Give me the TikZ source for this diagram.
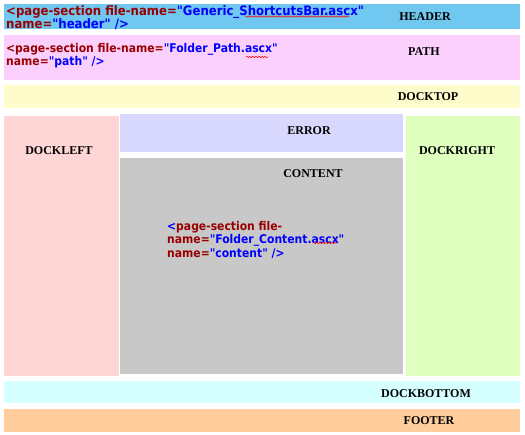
\documentclass[tikz,border=0pt]{standalone}
\usepackage{fontspec}
\setmainfont{Liberation Serif}
\newfontfamily\codefont{DejaVu Sans Condensed}
\usetikzlibrary{decorations.pathmorphing}

\definecolor{headerblue}{RGB}{112,200,240}
\definecolor{pathpink}{RGB}{252,208,252}
\definecolor{docktopyellow}{RGB}{255,252,204}
\definecolor{dockleftpink}{RGB}{255,214,214}
\definecolor{errorlav}{RGB}{216,216,255}
\definecolor{contentgray}{RGB}{200,200,200}
\definecolor{dockrightgreen}{RGB}{222,255,190}
\definecolor{dockbottomcyan}{RGB}{214,255,255}
\definecolor{footerorange}{RGB}{255,204,156}
\definecolor{tagred}{RGB}{153,0,0}
\definecolor{valblue}{RGB}{0,0,255}

\newcommand{\tg}[1]{\textcolor{tagred}{#1}}
\newcommand{\vl}[1]{\textcolor{valblue}{#1}}

\tikzset{
  lbl/.style={font=\bfseries\fontsize{12}{14}\selectfont, inner sep=0pt},
  code/.style={font=\codefont\bfseries\fontsize{12}{13.5}\selectfont, align=left, anchor=north west, inner sep=0pt},
  bigcode/.style={code, font=\codefont\bfseries\fontsize{13}{13.5}\selectfont},
  squiggle/.style={red, line width=0.5pt, decorate, decoration={snake, amplitude=0.7pt, segment length=3pt}}
}

\begin{document}
\begin{tikzpicture}[x=1pt,y=-1pt]
    \useasboundingbox (0,0) rectangle (525,434);
    % Header and path bands
    \fill[headerblue] (4,4) rectangle (520,29);
    \node[bigcode] (headercode) at (6,5) {\tg{<page-section file-name=}\vl{"Generic\_ShortcutsBar.ascx"}\\\tg{name=}\vl{"header" />}};
    \node[lbl] (header) at (425,17) {HEADER};
    \fill[pathpink] (4,35) rectangle (520,80);
    \node[code] (pathcode) at (6,43) {\tg{<page-section file-name=}\vl{"Folder\_Path.ascx"}\\\tg{name=}\vl{"path" />}};
    \node[lbl] (path) at (424,52) {PATH};
    % Dock top
    \fill[docktopyellow] (4,85) rectangle (520,108);
    \node[lbl] (docktop) at (428,97) {DOCKTOP};
    % Middle columns
    \fill[dockleftpink] (4,116) rectangle (119,376);
    \node[lbl] (dockleft) at (59,151) {DOCKLEFT};
    \fill[errorlav] (120,114) rectangle (403,152);
    \node[lbl] (error) at (309,131) {ERROR};
    \fill[contentgray] (120,158) rectangle (403,374);
    \node[lbl] (content) at (313,174) {CONTENT};
    \node[code] (contentcode) at (167,221) {\vl{<}\tg{page-section file-}\\\tg{name=}\vl{"Folder\_Content.ascx"}\\\tg{name=}\vl{"content" />}};
    \fill[dockrightgreen] (406,116) rectangle (520,376);
    \node[lbl] (dockright) at (457,151) {DOCKRIGHT};
    % Bottom bands
    \fill[dockbottomcyan] (4,381) rectangle (520,403);
    \node[lbl] (dockbottom) at (426,394) {DOCKBOTTOM};
    \fill[footerorange] (4,409) rectangle (520,432);
    \node[lbl] (footer) at (429,421) {FOOTER};
    % Spelling marks
    \draw[squiggle] (245,16.5) -- (349,16.5);
    \draw[squiggle] (246,57) -- (268,57);
    \draw[squiggle] (313,243) -- (337,243);
\end{tikzpicture}
\end{document}
